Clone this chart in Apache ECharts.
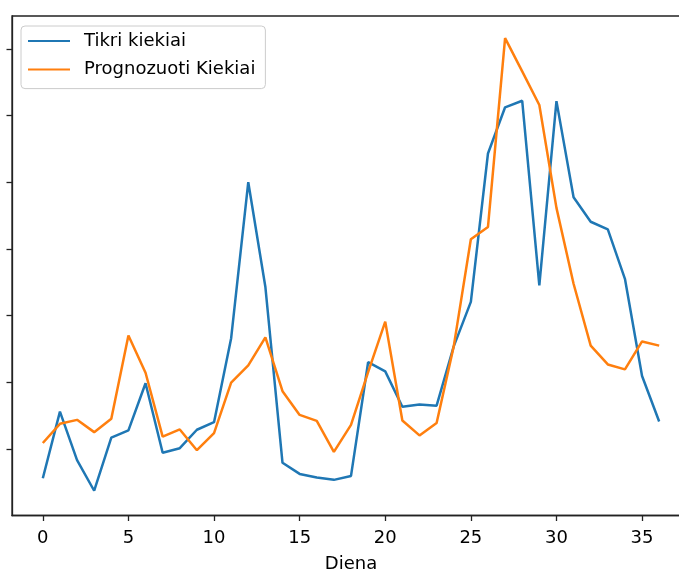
<!DOCTYPE html>
<html>
<head>
<meta charset="utf-8">
<script src="https://cdn.jsdelivr.net/npm/echarts@6/dist/echarts.min.js"></script>
<style>
html,body{margin:0;padding:0;background:#fff;overflow:hidden;width:679px;height:578px;}
#chart{width:690px;height:578px;}
</style>
</head>
<body>
<div id="chart"></div>
<script>
const days = [0,1,2,3,4,5,6,7,8,9,10,11,12,13,14,15,16,17,18,19,20,21,22,23,24,25,26,27,28,29,30,31,32,33,34,35,36];
const actual = [5.66,15.63,8.37,3.78,11.73,12.82,19.88,9.48,10.15,12.92,14.05,26.64,50.01,34.30,7.97,6.30,5.75,5.41,6.00,23.04,21.66,16.37,16.71,16.52,25.41,32.08,54.31,61.23,62.21,34.56,62.16,47.74,44.08,42.94,35.53,20.97,14.15];
const predicted = [10.93,13.81,14.40,12.56,14.55,27.04,21.46,11.88,12.96,9.85,12.42,19.97,22.55,26.75,18.70,15.14,14.25,9.60,13.66,21.56,29.12,14.30,12.07,13.93,25.41,41.46,43.30,71.60,66.61,61.57,46.16,34.79,25.52,22.70,21.96,26.15,25.52];
const xTicks = [0,5,10,15,20,25,30,35];
const yTicks = [10,20,30,40,50,60,70];
const seriesNames = ['Tikri kiekiai','Prognozuoti Kiekiai'];
const xName = 'Diena';

const chart = echarts.init(document.getElementById('chart'), null, {renderer:'canvas'});
const font = 'DejaVu Sans';
chart.setOption({
  animation:false,
  backgroundColor:'#fff',
  grid:{left:12,top:16,right:0,bottom:57,show:true,borderColor:'#222',borderWidth:1.3,backgroundColor:'transparent'},
  legend:{
    left:21, top:26, orient:'vertical',
    itemWidth:42, itemHeight:18, itemGap:10.6,
    padding:[6,10,10,6],
    backgroundColor:'rgba(255,255,255,0.8)',
    borderColor:'#cccccc', borderWidth:1, borderRadius:4,
    itemStyle:{opacity:0},
    textStyle:{fontFamily:font,fontSize:18,color:'#000',padding:[0,0,0,9]},
    data:seriesNames
  },
  xAxis:{
    type:'value', min:-1.8, max:37.8,
    name:xName, nameLocation:'middle', nameGap:39.5,
    nameTextStyle:{fontFamily:font,fontSize:18,color:'#000'},
    splitLine:{show:false},
    axisLine:{show:true,onZero:false,lineStyle:{color:'#222',width:1.3}},
    axisTick:{show:true,length:5.5,lineStyle:{color:'#222',width:1.3},customValues:xTicks},
    axisLabel:{show:true,margin:14,fontFamily:font,fontSize:18,color:'#000',customValues:xTicks}
  },
  yAxis:{
    type:'value', min:0.07, max:74.91,
    splitLine:{show:false},
    axisLine:{show:true,onZero:false,lineStyle:{color:'#222',width:1.3}},
    axisTick:{show:true,length:5.5,lineStyle:{color:'#222',width:1.3},customValues:yTicks},
    axisLabel:{show:false}
  },
  series:[
    {name:seriesNames[0],type:'line',symbol:'none',data:days.map((d,i)=>[d,actual[i]]),
     lineStyle:{color:'#1f77b4',width:2.5},itemStyle:{color:'#1f77b4'}},
    {name:seriesNames[1],type:'line',symbol:'none',data:days.map((d,i)=>[d,predicted[i]]),
     lineStyle:{color:'#ff7f0e',width:2.5},itemStyle:{color:'#ff7f0e'}}
  ]
});
</script>
</body>
</html>
